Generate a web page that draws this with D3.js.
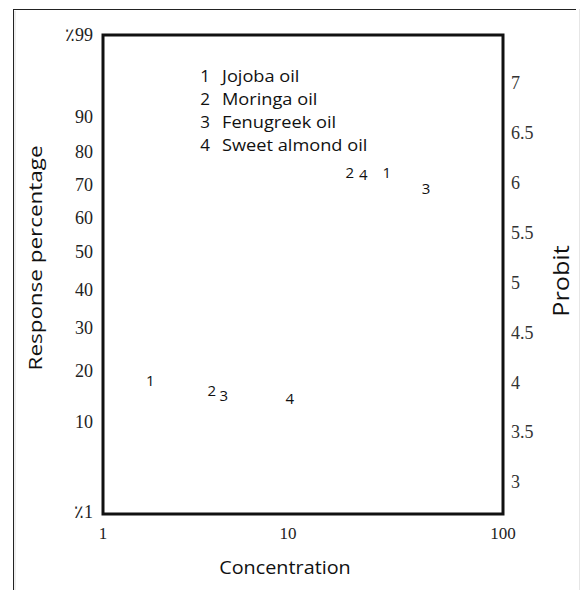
<!DOCTYPE html>
<html>
<head>
<meta charset="utf-8">
<script src="https://cdn.jsdelivr.net/npm/d3@7/dist/d3.min.js"></script>
<style>
  html, body { margin: 0; padding: 0; background: #fff; }
  svg { display: block; }
</style>
</head>
<body>
<svg id="chart" width="581" height="590"></svg>
<script>
// ---- Data ----
const oils = ["Jojoba oil", "Moringa oil", "Fenugreek oil", "Sweet almond oil"];
const markers = ["1", "2", "3", "4"];
// Concentration (log axis) and probit value of each point, per oil: [low, high]
const concLow = [1.8, 3.87, 4.5, 10.2];
const probitLow = [4.02, 3.91, 3.86, 3.83];
const concHigh = [28.8, 19.4, 43.8, 22.4];
const probitHigh = [6.10, 6.10, 5.94, 6.08];

const xTicks = [1, 10, 100];
const probitTicks = [3, 3.5, 4, 4.5, 5, 5.5, 6, 6.5, 7];
const pctLabels = ["\u066A99", "90", "80", "70", "60", "50", "40", "30", "20", "10", "\u066A1"];
// Position of each percentage label, expressed in probit units
const pctProbit = [7.48, 6.66, 6.31, 5.98, 5.65, 5.31, 4.93, 4.55, 4.12, 3.60, 2.70];

// ---- Layout ----
const svg = d3.select("#chart");
const L = 103, R = 503, T = 35, B = 514;

const x = d3.scaleLog().domain([1, 10, 100]).range([L, 288, R]);
const y = d3.scaleLinear().domain([3, 7]).range([482, 83]);

// stretch a text element's glyphs along its baseline by factor k
function stretch(sel, k) {
  sel.each(function () {
    const w = this.getComputedTextLength();
    d3.select(this).attr("textLength", w * k).attr("lengthAdjust", "spacingAndGlyphs");
  });
}

// outer border
svg.append("line").attr("x1", 13.5).attr("x2", 13.5).attr("y1", 9).attr("y2", 590)
  .attr("stroke", "#222").attr("stroke-width", 1);
svg.append("line").attr("x1", 13).attr("x2", 576).attr("y1", 9.5).attr("y2", 9.5)
  .attr("stroke", "#222").attr("stroke-width", 1);
svg.append("line").attr("x1", 15).attr("x2", 15).attr("y1", 11).attr("y2", 590)
  .attr("stroke", "#ddd").attr("stroke-width", 1);
svg.append("line").attr("x1", 579.5).attr("x2", 579.5).attr("y1", 9).attr("y2", 590)
  .attr("stroke", "#e6e6e6").attr("stroke-width", 1);

// plot frame
svg.append("rect").attr("x", L).attr("y", T).attr("width", R - L).attr("height", B - T)
  .attr("fill", "none").attr("stroke", "#111").attr("stroke-width", 3);

const serif = "'Liberation Serif', 'Times New Roman', serif";
const sans = "'Open Sans', 'Noto Sans', sans-serif";

// x tick labels
svg.append("g").selectAll("text").data(xTicks).join("text")
  .attr("x", d => x(d)).attr("y", 533).attr("dy", "0.35em")
  .attr("text-anchor", "middle").attr("font-family", serif).attr("font-size", 17)
  .attr("fill", "#222").text(d => d);

// left percentage labels
svg.append("g").selectAll("text").data(pctLabels).join("text")
  .attr("x", 93).attr("y", (d, i) => y(pctProbit[i])).attr("dy", "0.35em")
  .attr("text-anchor", "end").attr("font-family", serif).attr("font-size", 18)
  .attr("fill", "#222").text(d => d);

// right probit labels
svg.append("g").selectAll("text").data(probitTicks).join("text")
  .attr("x", 511).attr("y", d => y(d)).attr("dy", "0.35em")
  .attr("text-anchor", "start").attr("font-family", serif).attr("font-size", 18)
  .attr("fill", "#333").text(d => d);

// axis titles
svg.append("text").attr("x", 285).attr("y", 568).attr("dy", "0.35em")
  .attr("text-anchor", "middle").attr("font-family", sans).attr("font-size", 18)
  .attr("fill", "#111").text("Concentration").call(stretch, 1.1);
svg.append("text").attr("transform", "translate(35,258) rotate(-90)").attr("dy", "0.35em")
  .attr("text-anchor", "middle").attr("font-family", sans).attr("font-size", 19)
  .attr("fill", "#111").text("Response percentage").call(stretch, 1.18);
svg.append("text").attr("transform", "translate(562,281) rotate(-90)").attr("dy", "0.35em")
  .attr("text-anchor", "middle").attr("font-family", sans).attr("font-size", 21)
  .attr("fill", "#111").text("Probit").call(stretch, 1.2);

// legend
const lg = svg.append("g");
lg.selectAll("text.num").data(markers).join("text").attr("class", "num")
  .attr("x", 205).attr("y", (d, i) => 76 + i * 23).attr("dy", "0.35em")
  .attr("text-anchor", "middle").attr("font-family", sans).attr("font-size", 17)
  .attr("fill", "#111").text(d => d);
lg.selectAll("text.lab").data(oils).join("text").attr("class", "lab")
  .attr("x", 222).attr("y", (d, i) => 76 + i * 23).attr("dy", "0.35em")
  .attr("text-anchor", "start").attr("font-family", sans).attr("font-size", 17)
  .attr("fill", "#111").text(d => d).call(stretch, 1.07);

// points (digit markers)
const pts = [];
oils.forEach((o, i) => {
  pts.push({ m: markers[i], c: concLow[i], p: probitLow[i] });
  pts.push({ m: markers[i], c: concHigh[i], p: probitHigh[i] });
});
svg.append("g").selectAll("text").data(pts).join("text")
  .attr("x", d => x(d.c)).attr("y", d => y(d.p)).attr("dy", "0.35em")
  .attr("text-anchor", "middle").attr("font-family", sans).attr("font-size", 15)
  .attr("fill", "#111").text(d => d.m);
</script>
</body>
</html>
